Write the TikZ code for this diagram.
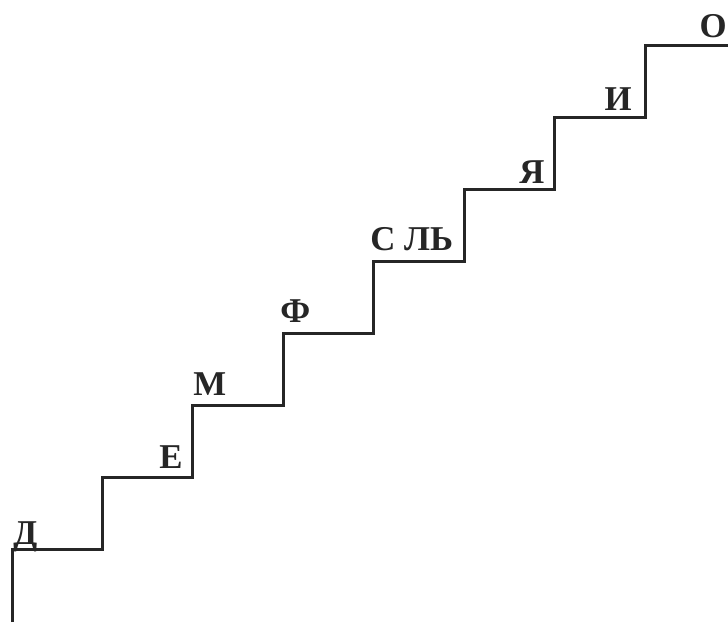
\documentclass[tikz,border=0pt]{standalone}
\usepackage{fontspec}
\setmainfont{Liberation Serif}
\usetikzlibrary{positioning}
\newcommand{\stepfont}{\bfseries\fontsize{17.4}{20}\selectfont}

\tikzset{
    stair/.style={line width=1.5pt, black!85, line join=miter},
    letter/.style={font=\stepfont, text=black!85, inner sep=0pt}
}

\begin{document}
\begin{tikzpicture}[x=0.5pt, y=-0.5pt]
        \useasboundingbox (0,0) rectangle (728,622);
        % corners of the steps
        \foreach \i in {0,...,7}
            \coordinate (c\i) at (12+\i*90.43, 549-\i*72);
        \coordinate (bottom) at (12,622);
        \coordinate (top) at (728,45);
        \draw[stair] (bottom) -- (c0) -| (c1) -| (c2) -| (c3) -| (c4)
                     -| (c5) -| (c6) -| (c7) -- (top);
        % letters on the steps
        \node[letter, anchor=base west] (d) at (13,544) {Д};
        \node[letter, anchor=base east] (e) at (183,468) {Е};
        \node[letter, anchor=base west] (m) at (193,395) {М};
        \node[letter, anchor=base west] (f) at (280,322) {Ф};
        \node[letter, anchor=base west] (sl) at (370,250) {С ЛЬ};
        \node[letter, anchor=base east] (ya) at (545,183) {Я};
        \node[letter, anchor=base east] (i) at (632,110) {И};
        \node[letter, anchor=base east] (o) at (727,37) {О};
    \end{tikzpicture}
\end{document}
